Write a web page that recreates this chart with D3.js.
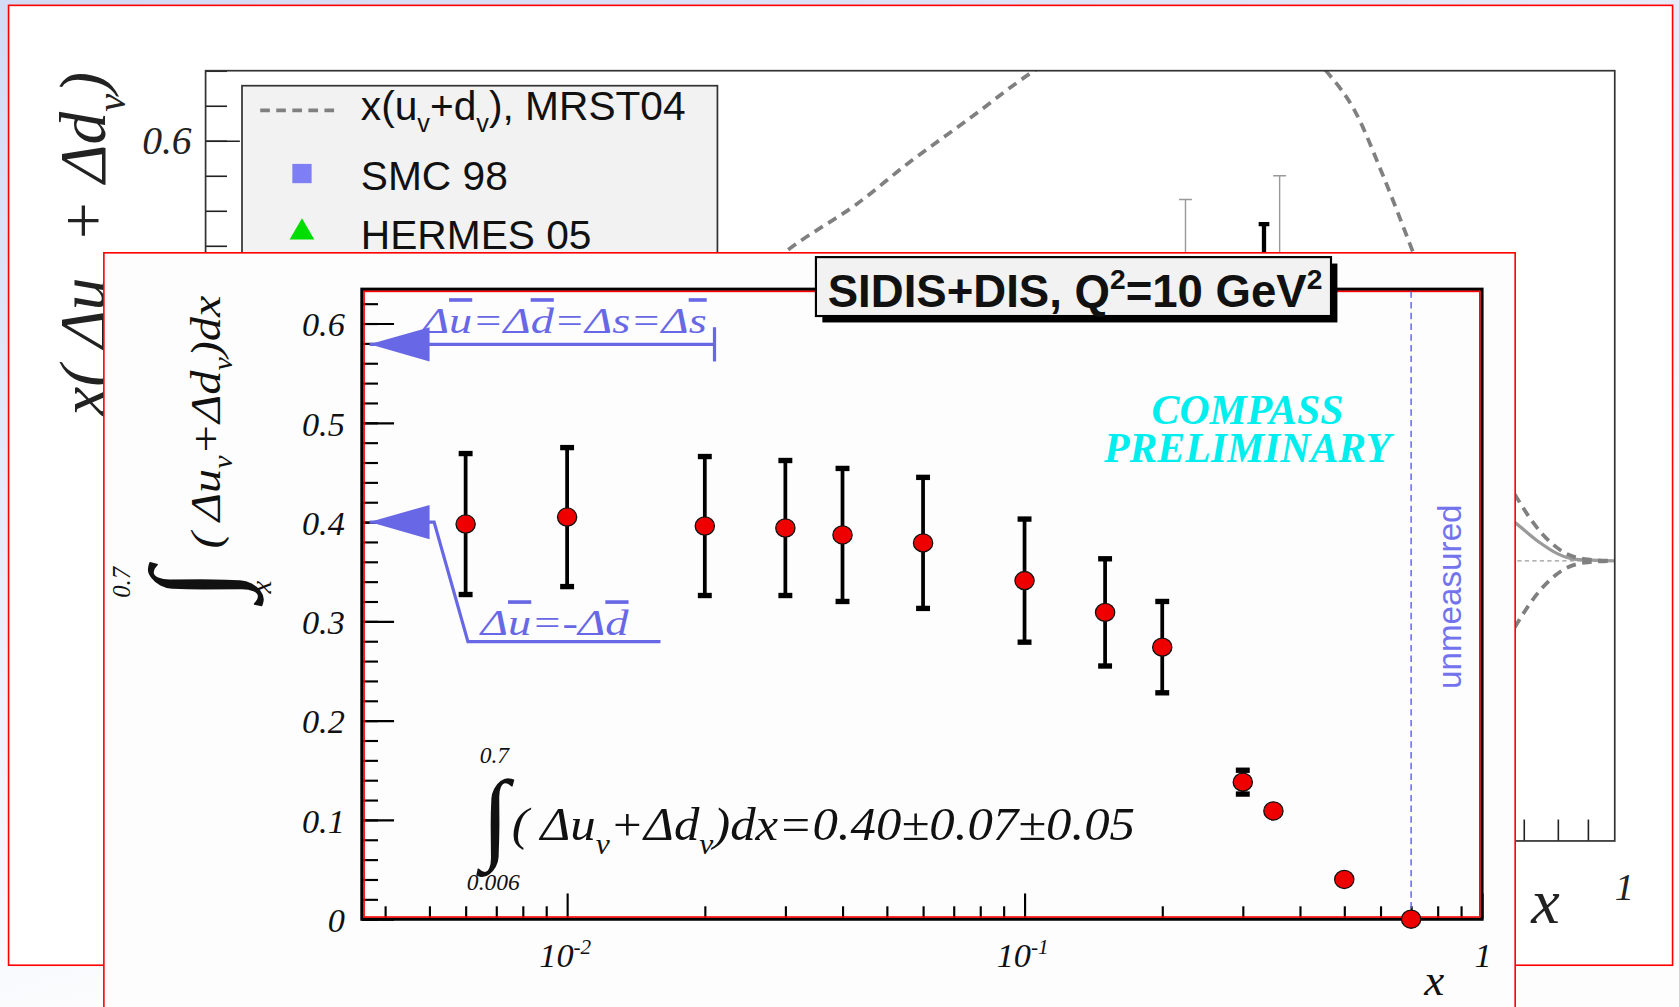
<!DOCTYPE html>
<html>
<head>
<meta charset="utf-8">
<script src="https://cdn.jsdelivr.net/npm/d3@7"></script>
<style>
html, body { margin: 0; padding: 0; overflow: hidden; background: #fff; }
svg { display: block; }
</style>
</head>
<body>
<svg id="chart"></svg>
<script>
// ---- front plot: integral of (du_v + dd_v) from x to 0.7 ----
const xBins = [0.006, 0.01, 0.02, 0.03, 0.04, 0.06, 0.1, 0.15, 0.2, 0.3, 0.35, 0.5, 0.7];
const integralVals = [0.398, 0.405, 0.396, 0.394, 0.387, 0.379, 0.341, 0.309, 0.274, 0.138, 0.109, 0.040, 0.0];
const integralErrs = [0.071, 0.070, 0.070, 0.068, 0.067, 0.066, 0.062, 0.054, 0.046, 0.012, 0, 0, 0];
const frontYTicks = [0, 0.1, 0.2, 0.3, 0.4, 0.5, 0.6];
const frontXTicks = [0.01, 0.1, 1];
const frontXLabels = [['10', '-2'], ['10', '-1'], ['1', '']];

// ---- back plot: x(du_v + dd_v) ----
const mrstX = [0.004, 0.01, 0.02, 0.03, 0.041, 0.051, 0.063, 0.079, 0.102, 0.13, 0.17, 0.21, 0.26, 0.324, 0.362, 0.403, 0.454, 0.52, 0.6, 0.676, 0.75, 0.82, 0.9, 1.0];
const mrstVals = [0.08, 0.17, 0.28, 0.37, 0.456, 0.508, 0.569, 0.629, 0.698, 0.75, 0.78, 0.785, 0.76, 0.698, 0.641, 0.551, 0.44, 0.31, 0.18, 0.095, 0.04, 0.012, 0.002, 0];
const fitX = [0.004, 0.01, 0.03, 0.1, 0.2, 0.3, 0.4, 0.5, 0.6, 0.676, 0.74, 0.8, 0.86, 1.0];
const fitVals = [0.02, 0.05, 0.12, 0.25, 0.28, 0.24, 0.18, 0.13, 0.085, 0.055, 0.028, 0.01, 0.002, 0];
const smcX = [0.186], smcVals = [0.30], smcErrs = [0.216];
const hermesX = [0.269], hermesVals = [0.30], hermesErrs = [0.25];
const compassX = [0.253], compassVals = [0.40], compassErrs = [0.081];
const legendLabels = ['MRST04', 'SMC 98', 'HERMES 05'];

const W = 1568, H = 940;
const serif = '"Liberation Serif", "Times New Roman", serif';
const sans = '"Liberation Sans", Arial, sans-serif';
const blue = '#6868e6';

const svg = d3.select('#chart')
    .attr('width', 1679).attr('height', 1007)
    .attr('viewBox', `0 0 ${W} ${H}`)
    .attr('preserveAspectRatio', 'none');
const defs = svg.append('defs');

// text with sub/superscripts and overbars
function rich(sel, parts, size) {
    let shift = 0;
    parts.forEach(p => {
        const [str, kind] = Array.isArray(p) ? p : [p, 'n'];
        let target = 0, fs = size;
        if (kind === 'sub') { target = size * 0.3; fs = size * 0.62; }
        if (kind === 'sup') { target = -size * 0.4; fs = size * 0.62; }
        const t = sel.append('tspan').attr('dy', target - shift).attr('font-size', fs).text(str);
        if (kind === 'bar') t.style('text-decoration', 'overline');
        shift = target;
    });
    return sel;
}

// slide background
const grad = defs.append('linearGradient').attr('id', 'slideBg')
    .attr('x1', 0).attr('y1', 0).attr('x2', 0.5).attr('y2', 1);
grad.append('stop').attr('offset', '0%').attr('stop-color', '#d3dbf5');
grad.append('stop').attr('offset', '55%').attr('stop-color', '#eef1fb');
grad.append('stop').attr('offset', '85%').attr('stop-color', '#fdfdfe');
svg.append('rect').attr('width', W).attr('height', H).attr('fill', 'url(#slideBg)');

// ================= back plot =================
svg.append('rect').attr('x', 8).attr('y', 5).attr('width', 1554).attr('height', 896)
    .attr('fill', '#fff').attr('stroke', '#ff0000').attr('stroke-width', 1.5);

const back = { left: 192, right: 1508, top: 66, bottom: 785 };
const bx = d3.scaleLog().domain([0.004, 1]).range([back.left, back.right]);
const by = d3.scaleLinear().domain([-0.4, 0.7]).range([back.bottom, back.top]);

defs.append('clipPath').attr('id', 'backClip').append('rect')
    .attr('x', back.left).attr('y', back.top)
    .attr('width', back.right - back.left).attr('height', back.bottom - back.top);

const bg = svg.append('g');
const bin = bg.append('g').attr('clip-path', 'url(#backClip)');

bin.append('line')
    .attr('x1', bx(0.004)).attr('x2', bx(1)).attr('y1', by(0)).attr('y2', by(0))
    .attr('stroke', '#999').attr('stroke-width', 1).attr('stroke-dasharray', '4,3');

const bline = d3.line().x(d => bx(d[0])).y(d => by(d[1])).curve(d3.curveMonotoneX);
bin.append('path').datum(d3.zip(fitX, fitVals)).attr('d', bline)
    .attr('fill', 'none').attr('stroke', '#9a9a9a').attr('stroke-width', 3);
bin.append('path').datum(d3.zip(mrstX, mrstVals)).attr('d', bline)
    .attr('fill', 'none').attr('stroke', '#808080').attr('stroke-width', 3.5).attr('stroke-dasharray', '9,6');
bin.append('path').datum(d3.zip(mrstX, mrstVals.map(v => -v))).attr('d', bline)
    .attr('fill', 'none').attr('stroke', '#808080').attr('stroke-width', 3.5).attr('stroke-dasharray', '9,6');

function backErrors(xs, vals, errs, color, width, cap) {
    const rows = d3.zip(xs, vals, errs);
    bin.selectAll(null).data(rows).enter().append('line')
        .attr('x1', d => bx(d[0])).attr('x2', d => bx(d[0]))
        .attr('y1', d => by(d[1] - d[2])).attr('y2', d => by(d[1] + d[2]))
        .attr('stroke', color).attr('stroke-width', width);
    bin.selectAll(null).data(rows).enter().append('line')
        .attr('x1', d => bx(d[0]) - cap).attr('x2', d => bx(d[0]) + cap)
        .attr('y1', d => by(d[1] + d[2])).attr('y2', d => by(d[1] + d[2]))
        .attr('stroke', color).attr('stroke-width', width);
}
backErrors(smcX, smcVals, smcErrs, '#999', 1.3, 6);
backErrors(hermesX, hermesVals, hermesErrs, '#999', 1.3, 6);
backErrors(compassX, compassVals, compassErrs, '#000', 4, 5);

// back axes
const bMinorY = d3.range(-0.4, 0.7001, 0.05);
bg.append('g').attr('transform', `translate(${back.left},0)`)
    .call(d3.axisLeft(by).tickValues(bMinorY).tickSizeInner(-20).tickSizeOuter(0).tickFormat(''))
    .call(g => g.select('.domain').remove())
    .call(g => g.selectAll('line').attr('stroke', '#222').attr('stroke-width', 1.5));
bg.append('g').attr('transform', `translate(${back.left},0)`)
    .call(d3.axisLeft(by).tickValues([-0.4, -0.2, 0, 0.2, 0.4, 0.6]).tickSizeInner(-32).tickSizeOuter(0).tickPadding(13)
        .tickFormat(d3.format('.1f')))
    .call(g => g.select('.domain').remove())
    .call(g => g.selectAll('line').attr('stroke', '#222').attr('stroke-width', 1.5))
    .call(g => g.selectAll('text').attr('font-family', serif).attr('font-style', 'italic')
        .attr('font-size', 37).attr('fill', '#222'));

const bMinorX = [0.5, 0.6, 0.7, 0.8, 0.9, 0.05, 0.06, 0.07, 0.08, 0.09, 0.2, 0.3, 0.4, 0.005, 0.006, 0.007, 0.008, 0.009, 0.02, 0.03, 0.04];
bg.append('g').attr('transform', `translate(0,${back.bottom})`)
    .call(d3.axisBottom(bx).tickValues(bMinorX).tickSizeInner(-20).tickSizeOuter(0).tickFormat(''))
    .call(g => g.select('.domain').remove())
    .call(g => g.selectAll('line').attr('stroke', '#222').attr('stroke-width', 1.5));

bg.append('rect').attr('x', back.left).attr('y', back.top)
    .attr('width', back.right - back.left).attr('height', back.bottom - back.top)
    .attr('fill', 'none').attr('stroke', '#333').attr('stroke-width', 1.6);

bg.append('text').attr('x', bx(1)).attr('y', 840).attr('font-family', serif).attr('font-style', 'italic')
    .attr('font-size', 36).attr('fill', '#222').text('1');
bg.append('text').attr('x', 1430).attr('y', 862).attr('font-family', serif).attr('font-style', 'italic')
    .attr('font-size', 60).attr('fill', '#222').text('x');

// back y title
rich(bg.append('text').attr('transform', 'translate(98,388) rotate(-90)')
    .attr('font-family', serif).attr('font-style', 'italic').attr('fill', '#222'),
    ['x( Δu', ['v', 'sub'], ' + Δd', ['v', 'sub'], ')'], 61);

// back legend
const leg = bg.append('g');
leg.append('rect').attr('x', 226).attr('y', 80).attr('width', 444).attr('height', 200)
    .attr('fill', '#f2f2f2').attr('stroke', '#333').attr('stroke-width', 1.6);
leg.append('line').attr('x1', 243).attr('x2', 318).attr('y1', 103).attr('y2', 103)
    .attr('stroke', '#808080').attr('stroke-width', 3.5).attr('stroke-dasharray', '9,6');
rich(leg.append('text').attr('x', 337).attr('y', 112).attr('font-family', sans).attr('fill', '#111'),
    ['x(u', ['v', 'sub'], '+d', ['v', 'sub'], '), ' + legendLabels[0]], 38);
leg.append('rect').attr('x', 273).attr('y', 153).attr('width', 18).attr('height', 18).attr('fill', '#7f7ff5');
leg.append('text').attr('x', 337).attr('y', 177).attr('font-family', sans).attr('font-size', 38)
    .attr('fill', '#111').text(legendLabels[1]);
leg.append('path').attr('d', d3.symbol(d3.symbolTriangle, 230)()).attr('transform', 'translate(282,217)')
    .attr('fill', '#00dd00');
leg.append('text').attr('x', 337).attr('y', 232).attr('font-family', sans).attr('font-size', 38)
    .attr('fill', '#111').text(legendLabels[2]);

// ================= front plot =================
svg.append('rect').attr('x', 97).attr('y', 236).attr('width', 1318).attr('height', 720)
    .attr('fill', '#fdfdfd').attr('stroke', '#ff0000').attr('stroke-width', 1.5);

const front = { left: 338, right: 1384, top: 270, bottom: 858 };
const fx = d3.scaleLog().domain([0.00356, 1]).range([front.left, front.right]);
const fy = d3.scaleLinear().domain([0, 0.6345]).range([front.bottom, front.top]);
const fg = svg.append('g');

// y ticks
fg.append('g').attr('transform', `translate(${front.left},0)`)
    .call(d3.axisLeft(fy).tickValues(d3.range(0, 0.635, 0.02)).tickSizeInner(-15).tickSizeOuter(0).tickFormat(''))
    .call(g => g.select('.domain').remove())
    .call(g => g.selectAll('line').attr('stroke', '#000').attr('stroke-width', 2));
fg.append('g').attr('transform', `translate(${front.left},0)`)
    .call(d3.axisLeft(fy).tickValues(frontYTicks).tickSizeInner(-30).tickSizeOuter(0).tickPadding(16)
        .tickFormat(d => d === 0 ? '0' : d3.format('.1f')(d)))
    .call(g => g.select('.domain').remove())
    .call(g => g.selectAll('line').attr('stroke', '#000').attr('stroke-width', 2))
    .call(g => g.selectAll('text').attr('font-family', serif).attr('font-style', 'italic')
        .attr('font-size', 32).attr('fill', '#111').attr('dy', '0.36em'));

// x ticks
const fMinorX = [];
[0.001, 0.01, 0.1].forEach(dec => d3.range(2, 10).forEach(k => {
    const v = dec * k;
    if (v > 0.00356 && v < 1) fMinorX.push(v);
}));
fg.append('g').attr('transform', `translate(0,${front.bottom})`)
    .call(d3.axisBottom(fx).tickValues(fMinorX).tickSizeInner(-12).tickSizeOuter(0).tickFormat(''))
    .call(g => g.select('.domain').remove())
    .call(g => g.selectAll('line').attr('stroke', '#000').attr('stroke-width', 2));
fg.append('g').attr('transform', `translate(0,${front.bottom})`)
    .call(d3.axisBottom(fx).tickValues(frontXTicks).tickSizeInner(-24).tickSizeOuter(0).tickFormat(''))
    .call(g => g.select('.domain').remove())
    .call(g => g.selectAll('line').attr('stroke', '#000').attr('stroke-width', 2));
frontXTicks.forEach((v, i) => {
    const [base, exp] = frontXLabels[i];
    const t = fg.append('text').attr('x', fx(v) - (exp ? 26 : 7)).attr('y', 903)
        .attr('font-family', serif).attr('font-style', 'italic').attr('fill', '#111');
    rich(t, exp ? [base, [exp, 'sup']] : [base], 32);
});
fg.append('text').attr('x', 1330).attr('y', 929).attr('font-family', serif).attr('font-style', 'italic')
    .attr('font-size', 42).attr('fill', '#111').text('x');

// frame
fg.append('rect').attr('x', front.left).attr('y', front.top)
    .attr('width', front.right - front.left).attr('height', front.bottom - front.top)
    .attr('fill', 'none').attr('stroke', '#000').attr('stroke-width', 3);
fg.append('rect').attr('x', front.left + 2).attr('y', front.top + 2)
    .attr('width', front.right - front.left - 4).attr('height', front.bottom - front.top - 4)
    .attr('fill', 'none').attr('stroke', '#ff0000').attr('stroke-width', 1.5);

// unmeasured region boundary
fg.append('line').attr('x1', fx(0.7)).attr('x2', fx(0.7)).attr('y1', front.top + 2).attr('y2', front.bottom)
    .attr('stroke', '#5a5aff').attr('stroke-width', 1.3).attr('stroke-dasharray', '6,4');
fg.append('text').attr('transform', `translate(${fx(0.7) + 47},557) rotate(-90)`)
    .attr('text-anchor', 'middle').attr('font-family', sans).attr('font-size', 31)
    .attr('fill', '#7373ee').text('unmeasured');

// arrows
function arrowHead(xv, yv) {
    const x0 = fx(xv), y0 = fy(yv);
    fg.append('path').attr('d', `M${x0},${y0}L${x0 + 56},${y0 - 16}L${x0 + 56},${y0 + 16}Z`).attr('fill', blue);
}
fg.append('line').attr('x1', fx(0.0037)).attr('x2', fx(0.021)).attr('y1', fy(0.579)).attr('y2', fy(0.579))
    .attr('stroke', blue).attr('stroke-width', 3);
fg.append('line').attr('x1', fx(0.021)).attr('x2', fx(0.021)).attr('y1', fy(0.579) - 16).attr('y2', fy(0.579) + 16)
    .attr('stroke', blue).attr('stroke-width', 3);
arrowHead(0.0037, 0.579);
fg.append('path').datum([[0.0037, 0.40], [0.00512, 0.40], [0.00607, 0.2795], [0.016, 0.2795]])
    .attr('d', d3.line().x(d => fx(d[0])).y(d => fy(d[1])))
    .attr('fill', 'none').attr('stroke', blue).attr('stroke-width', 3);
arrowHead(0.0037, 0.40);

rich(fg.append('text').attr('x', 394).attr('y', 311).attr('font-family', serif).attr('font-style', 'italic')
    .attr('fill', blue).attr('textLength', 266).attr('lengthAdjust', 'spacingAndGlyphs'),
    ['Δ', ['u', 'bar'], '=Δ', ['d', 'bar'], '=Δs=Δ', ['s', 'bar']], 34);
rich(fg.append('text').attr('x', 449).attr('y', 593).attr('font-family', serif).attr('font-style', 'italic')
    .attr('fill', blue).attr('textLength', 138).attr('lengthAdjust', 'spacingAndGlyphs'),
    ['Δ', ['u', 'bar'], '=-Δ', ['d', 'bar']], 34);

// data: error bars and markers
const rows = d3.zip(xBins, integralVals, integralErrs);
const withErr = rows.filter(d => d[2] > 0);
fg.selectAll(null).data(withErr).enter().append('line')
    .attr('x1', d => fx(d[0])).attr('x2', d => fx(d[0]))
    .attr('y1', d => fy(d[1] - d[2])).attr('y2', d => fy(d[1] + d[2]))
    .attr('stroke', '#000').attr('stroke-width', 3.5);
[-1, 1].forEach(s => {
    fg.selectAll(null).data(withErr).enter().append('rect')
        .attr('x', d => fx(d[0]) - 6.5).attr('y', d => fy(d[1] + s * d[2]) - 2.5)
        .attr('width', 13).attr('height', 5).attr('fill', '#000');
});
fg.selectAll(null).data(rows).enter().append('ellipse')
    .attr('cx', d => fx(d[0])).attr('cy', d => fy(d[1]))
    .attr('rx', 9).attr('ry', 8.5)
    .attr('fill', '#ee0000').attr('stroke', '#111').attr('stroke-width', 1.2);

// integral result
fg.append('text').attr('x', 450).attr('y', 793).attr('font-family', serif).attr('font-size', 94)
    .attr('fill', '#111').text('∫');
fg.append('text').attr('x', 448).attr('y', 712).attr('font-family', serif).attr('font-style', 'italic')
    .attr('font-size', 22).attr('fill', '#111').text('0.7');
fg.append('text').attr('x', 436).attr('y', 831).attr('font-family', serif).attr('font-style', 'italic')
    .attr('font-size', 22).attr('fill', '#111').text('0.006');
rich(fg.append('text').attr('x', 478).attr('y', 784).attr('font-family', serif).attr('font-style', 'italic')
    .attr('fill', '#111').attr('textLength', 582).attr('lengthAdjust', 'spacingAndGlyphs'),
    ['( Δu', ['v', 'sub'], '+Δd', ['v', 'sub'], ')dx=0.40±0.07±0.05'], 44);

// front y title
const yt = fg.append('g').attr('transform', 'translate(205,560) rotate(-90)');
yt.append('text').attr('x', 0).attr('y', 12).attr('font-family', serif).attr('font-size', 110)
    .attr('fill', '#111').text('∫');
yt.append('text').attr('x', 2).attr('y', -84).attr('font-family', serif).attr('font-style', 'italic')
    .attr('font-size', 23).attr('fill', '#111').text('0.7');
yt.append('text').attr('x', 6).attr('y', 48).attr('font-family', serif).attr('font-style', 'italic')
    .attr('font-size', 27).attr('fill', '#111').text('x');
rich(yt.append('text').attr('x', 48).attr('y', 0).attr('font-family', serif).attr('font-style', 'italic')
    .attr('fill', '#111').attr('textLength', 236).attr('lengthAdjust', 'spacingAndGlyphs'),
    ['( Δu', ['v', 'sub'], '+Δd', ['v', 'sub'], ')dx'], 40);

// title box
fg.append('rect').attr('x', 768).attr('y', 246).attr('width', 481).attr('height', 55).attr('fill', '#000');
fg.append('rect').attr('x', 762).attr('y', 240).attr('width', 481).attr('height', 55)
    .attr('fill', '#f2f2f2').attr('stroke', '#000').attr('stroke-width', 2);
rich(fg.append('text').attr('x', 773).attr('y', 287).attr('font-family', sans).attr('font-weight', 'bold')
    .attr('fill', '#111').attr('textLength', 462).attr('lengthAdjust', 'spacingAndGlyphs'),
    ['SIDIS+DIS, Q', ['2', 'sup'], '=10 GeV', ['2', 'sup']], 43);

// preliminary tag
['COMPASS', 'PRELIMINARY'].forEach((s, i) => {
    fg.append('text').attr('x', 1165).attr('y', 396 + i * 35).attr('text-anchor', 'middle')
        .attr('font-family', serif).attr('font-style', 'italic').attr('font-weight', 'bold')
        .attr('font-size', 39).attr('fill', '#00eeee').text(s);
});
</script>
</body>
</html>
